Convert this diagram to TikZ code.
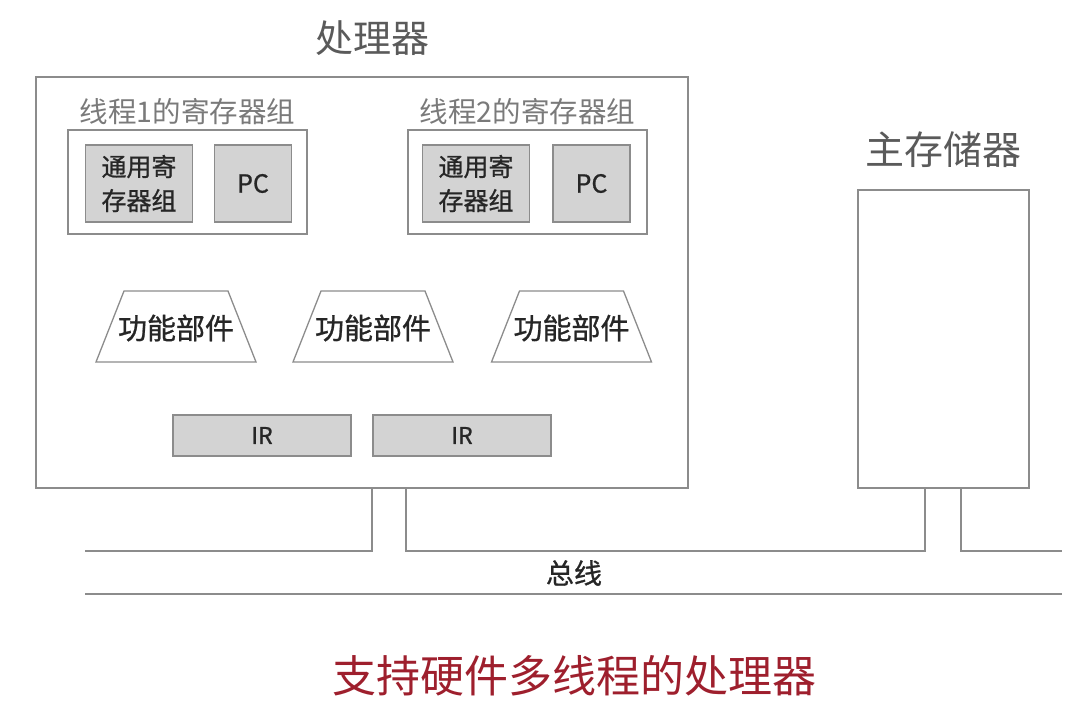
\documentclass[tikz,border=0pt]{standalone}
\usepackage{fontspec}
\setmainfont{Noto Sans CJK SC}
\newfontfamily\medfont{Noto Sans CJK SC}[FakeBold=0.9]
\definecolor{linegray}{HTML}{8C8C8C}
\definecolor{boxgray}{HTML}{D3D3D3}
\definecolor{labelgray}{HTML}{5A5A5A}
\definecolor{softgray}{HTML}{7A7A7A}
\definecolor{titlered}{HTML}{9E1F2D}
\tikzset{frame/.style={draw=linegray,line width=1.3pt,inner sep=0pt},
  reg/.style={frame,fill=boxgray,text=black!85,align=center,font=\medfont\fontsize{25}{34}\selectfont},
  unittext/.style={inner sep=0pt,text=black!85,font=\medfont\fontsize{29}{32}\selectfont},
  bus/.style={draw=linegray,line width=1.3pt}}

\begin{document}
\begin{tikzpicture}[x=1pt,y=-1pt]
  \path[use as bounding box] (0,0) rectangle (1082,716);
  % processor
  \node[frame,minimum width=652pt,minimum height=411pt] (cpu) at (362,282.5) {};
  \node[text=labelgray,font=\fontsize{38}{42}\selectfont] (cpuname) at (372,38) {处理器};
  % register sets of the two threads
  \foreach \n/\x/\gx/\px in {1/187.5/139/253,2/527.5/476/591.5}{
    \node[frame,minimum width=239pt,minimum height=104pt] (t\n) at (\x,182) {};
    \node[text=softgray,font=\fontsize{28.5}{32}\selectfont] (t\n name) at (\x,112) {线程\n{}的寄存器组};
    \node[reg,minimum width=107pt,minimum height=77pt] (g\n) at (\gx,183.5) {通用寄\\存器组};
    \node[reg,minimum width=77pt,minimum height=77pt] (pc\n) at (\px,183.5) {PC};
  }
  % functional units
  \foreach \n/\x in {1/176,2/373,3/571.5}{
    \node[unittext] (u\n) at (\x,328) {功能部件};
    \draw[frame] (\x-80,362) -- (\x-52,291) -- (\x+52,291) -- (\x+80,362) -- cycle;
  }
  \foreach \n/\x in {1/262,2/462}{
    \node[reg,font=\medfont\fontsize{23}{26}\selectfont,minimum width=178pt,minimum height=41pt] (ir\n) at (\x,435.5) {IR};
  }
  % main memory
  \node[frame,minimum width=171pt,minimum height=298pt] (mem) at (943.5,339) {};
  \node[text=labelgray,font=\fontsize{39}{42}\selectfont] (memname) at (943,150) {主存储器};
  % bus
  \coordinate (ca) at ([xshift=10pt]cpu.south);
  \coordinate (cb) at ([xshift=44pt]cpu.south);
  \coordinate (ma) at ([xshift=-18.5pt]mem.south);
  \coordinate (mb) at ([xshift=17.5pt]mem.south);
  \coordinate (busL) at (85,551);
  \coordinate (busR) at (1062,551);
  \coordinate (lowL) at (85,594);
  \coordinate (lowR) at (1062,594);
  \draw[bus] (busL) -- (ca |- busL) -- (ca);
  \draw[bus] (cb) -- (cb |- busL) -- (ma |- busL) -- (ma);
  \draw[bus] (mb) -- (mb |- busR) -- (busR);
  \draw[bus] (lowL) -- (lowR);
  \node[text=black!85,font=\medfont\fontsize{28}{30}\selectfont] (busname) at (574,573) {总线};
  \node[text=titlered,font=\fontsize{44}{48}\selectfont] (caption) at (574,676) {支持硬件多线程的处理器};
\end{tikzpicture}
\end{document}
